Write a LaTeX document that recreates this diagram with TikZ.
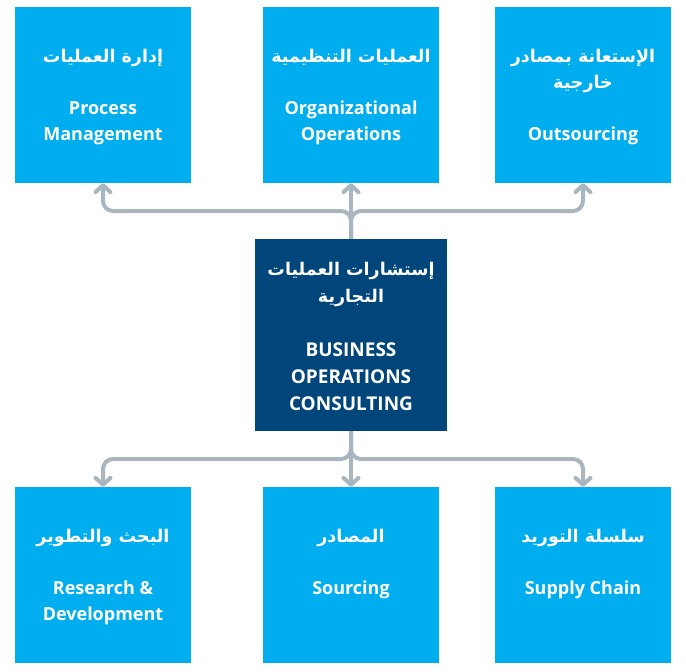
\documentclass[tikz,border=0pt]{standalone}
\usepackage{fontspec}
\setmainfont{Open Sans}
\newfontfamily\arabicfont[Script=Arabic]{DejaVu Sans}
\TeXXeTstate=1
\usetikzlibrary{arrows.meta,calc}
\definecolor{lightblue}{RGB}{0,173,238}
\definecolor{darkblue}{RGB}{0,70,122}
\definecolor{conn}{RGB}{170,182,191}
\begin{document}
\begin{tikzpicture}[x=1pt,y=-1pt,
  sbox/.style={fill=lightblue,draw=none,minimum width=176pt,minimum height=176pt,inner sep=0},
  cbox/.style={fill=darkblue,draw=none,minimum width=192pt,minimum height=192pt,inner sep=0},
  en/.style={text=white,anchor=base,inner sep=0,font=\bfseries\fontsize{18}{20}\selectfont},
  encap/.style={en,font=\bfseries\fontsize{19}{20}\selectfont},
  ar/.style={text=white,anchor=base,inner sep=0,font=\arabicfont\bfseries\fontsize{17.5}{20}\selectfont},
  conn/.style={draw=conn,line width=4pt,rounded corners=10pt,-{Straight Barb[length=7pt,width=15pt,line cap=round,line join=round]}}
]
\useasboundingbox (0,0) rectangle (686,672);
% boxes
\node[sbox] (b1) at (103,95) {};
\node[sbox] (b2) at (351,95) {};
\node[sbox] (b3) at (583,95) {};
\node[cbox] (c) at (351,335) {};
\node[sbox] (d1) at (103,575) {};
\node[sbox] (d2) at (351,575) {};
\node[sbox] (d3) at (583,575) {};
% connectors
\coordinate (jt) at (351,211);
\coordinate (jb) at (351,459);
\draw[conn] (c.north) -- (jt) -| (b1.south);
\draw[conn] (c.north) -- (jt) -| (b3.south);
\draw[conn] (c.north) -- (b2.south);
\draw[conn] (c.south) -- (jb) -| (d1.north);
\draw[conn] (c.south) -- (jb) -| (d3.north);
\draw[conn] (c.south) -- (d2.north);
% top texts
\node[ar] (t1a) at (103,62) {\beginR إدارة العمليات\endR};
\node[en] (t1b) at (103,114) {Process};
\node[en] (t1c) at (103,140) {Management};
\node[ar] (t2a) at (351,62) {\beginR العمليات التنظيمية\endR};
\node[en] (t2b) at (351,114) {Organizational};
\node[en] (t2c) at (351,140) {Operations};
\node[ar] (t3a) at (583,62) {\beginR الإستعانة بمصادر\endR};
\node[ar] (t3b) at (583,88) {\beginR خارجية\endR};
\node[en] (t3c) at (583,140) {Outsourcing};
% center texts
\node[ar] (ca) at (351,275) {\beginR إستشارات العمليات\endR};
\node[ar] (cb) at (351,302) {\beginR التجارية\endR};
\node[encap] (cc) at (351,356) {BUSINESS};
\node[encap] (cd) at (351,383) {OPERATIONS};
\node[encap] (ce) at (351,410) {CONSULTING};
% bottom texts
\node[ar] (u1a) at (103,542) {\beginR البحث والتطوير\endR};
\node[en] (u1b) at (103,594) {Research \&};
\node[en] (u1c) at (103,620) {Development};
\node[ar] (u2a) at (351,542) {\beginR المصادر\endR};
\node[en] (u2b) at (351,594) {Sourcing};
\node[ar] (u3a) at (583,542) {\beginR سلسلة التوريد\endR};
\node[en] (u3b) at (583,594) {Supply Chain};
\end{tikzpicture}
\end{document}
